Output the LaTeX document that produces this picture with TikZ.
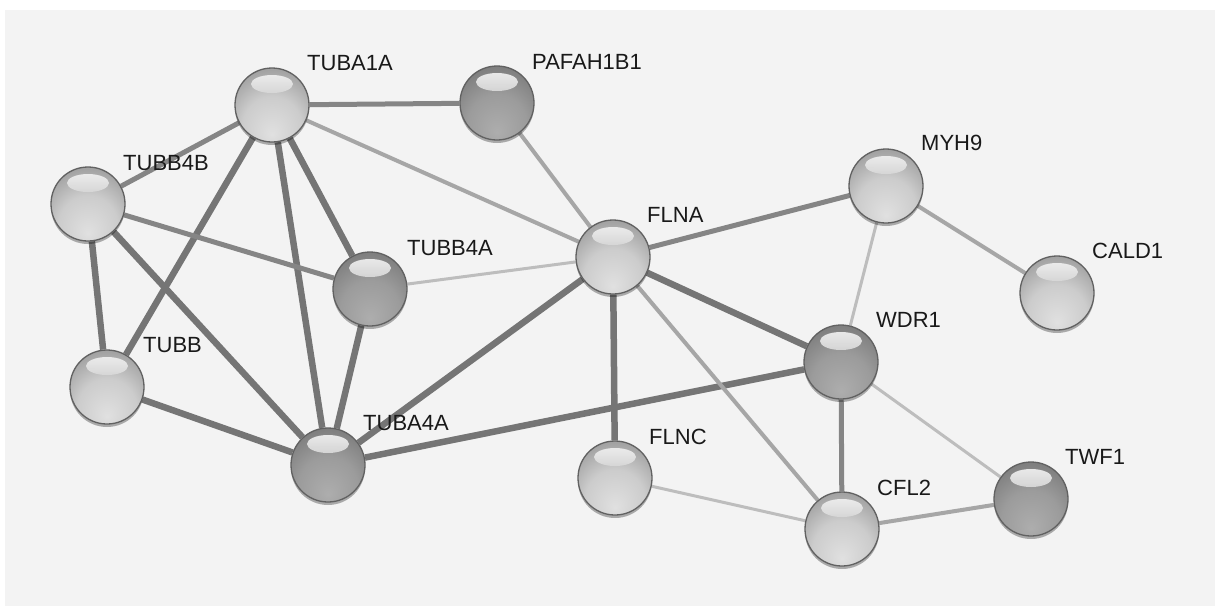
\documentclass[tikz,border=0pt]{standalone}
\usepackage{fontspec}
\setmainfont{Liberation Sans}
\usetikzlibrary{shadows}
\pgfdeclarelayer{bglayer}
\pgfdeclarelayer{edgelayer}
\pgfsetlayers{bglayer,edgelayer,main}
\definecolor{bgc}{RGB}{243,243,243}
\pgfdeclareradialshading{ballLight}{\pgfpoint{0bp}{-20bp}}{color(0bp)=(white!88!black); color(20bp)=(white!80!black); color(34bp)=(white!64!black); color(52bp)=(white!54!black); color(70bp)=(white!46!black)}
\pgfdeclareradialshading{ballDark}{\pgfpoint{0bp}{-20bp}}{color(0bp)=(white!68!black); color(20bp)=(white!61!black); color(34bp)=(white!50!black); color(52bp)=(white!42!black); color(70bp)=(white!35!black)}
\tikzset{
  ball/.style={circle, minimum size=74pt, inner sep=0pt, draw=black!62, line width=1.3pt,
    drop shadow={shadow xshift=0pt, shadow yshift=-3pt, opacity=0.3, fill=black},
    path picture={\shade[top color=white!97!black, bottom color=white!60!black, opacity=0.95]
      ([yshift=21pt]path picture bounding box.center) ellipse [x radius=21pt, y radius=9pt];}},
  ballL/.style={ball, shading=ballLight},
  ballD/.style={ball, shading=ballDark},
  lbl/.style={anchor=west, inner sep=0pt, text=black!90, font=\fontsize{22}{26}\selectfont},
  eA/.style={draw=black!54, line width=6.5pt},
  eB/.style={draw=black!48, line width=5pt},
  eC/.style={draw=black!35, line width=4pt},
  eD/.style={draw=black!26, line width=3pt},
}
\begin{document}
\begin{tikzpicture}[x=1pt,y=-1pt]
\useasboundingbox (0,0) rectangle (1215,606);
\begin{pgfonlayer}{bglayer}
\fill[bgc] (5,10) rectangle (1215,606);
\end{pgfonlayer}

% nodes
\node[ballL] (tuba1a) at (272,105) {};
\node[ballD] (pafah) at (497,103) {};
\node[ballL] (tubb4b) at (88,204) {};
\node[ballD] (tubb4a) at (370,289) {};
\node[ballL] (flna) at (613,257) {};
\node[ballL] (myh9) at (886,186) {};
\node[ballL] (cald1) at (1057,293) {};
\node[ballD] (wdr1) at (841,362) {};
\node[ballL] (tubb) at (107,387) {};
\node[ballD] (tuba4a) at (328,465) {};
\node[ballL] (flnc) at (615,478) {};
\node[ballL] (cfl2) at (842,529) {};
\node[ballD] (twf1) at (1031,499) {};

% labels
\node[lbl] (l-tuba1a) at (307,63) {TUBA1A};
\node[lbl] (l-pafah) at (532,62) {PAFAH1B1};
\node[lbl] (l-tubb4b) at (123,163) {TUBB4B};
\node[lbl] (l-tubb4a) at (407,248) {TUBB4A};
\node[lbl] (l-flna) at (647,215) {FLNA};
\node[lbl] (l-myh9) at (921,143) {MYH9};
\node[lbl] (l-cald1) at (1092,251) {CALD1};
\node[lbl] (l-wdr1) at (876,320) {WDR1};
\node[lbl] (l-tubb) at (143,345) {TUBB};
\node[lbl] (l-tuba4a) at (363,423) {TUBA4A};
\node[lbl] (l-flnc) at (649,437) {FLNC};
\node[lbl] (l-cfl2) at (877,488) {CFL2};
\node[lbl] (l-twf1) at (1065,457) {TWF1};

% edges
\begin{pgfonlayer}{edgelayer}
\draw[eB] (tuba1a) -- (pafah);
\draw[eC] (tuba1a) -- (flna);
\draw[eB] (tuba1a) -- (tubb4b);
\draw[eA] (tuba1a) -- (tubb);
\draw[eA] (tuba1a) -- (tuba4a);
\draw[eA] (tuba1a) -- (tubb4a);
\draw[eB] (tubb4b) -- (tubb4a);
\draw[eA] (tubb4b) -- (tubb);
\draw[eA] (tubb4b) -- (tuba4a);
\draw[eA] (tubb) -- (tuba4a);
\draw[eA] (tubb4a) -- (tuba4a);
\draw[eD] (tubb4a) -- (flna);
\draw[eA] (tuba4a) -- (flna);
\draw[eA] (tuba4a) -- (wdr1);
\draw[eC] (pafah) -- (flna);
\draw[eB] (flna) -- (myh9);
\draw[eA] (flna) -- (wdr1);
\draw[eA] (flna) -- (flnc);
\draw[eC] (flna) -- (cfl2);
\draw[eC] (myh9) -- (cald1);
\draw[eD] (myh9) -- (wdr1);
\draw[eB] (wdr1) -- (cfl2);
\draw[eD] (wdr1) -- (twf1);
\draw[eD] (flnc) -- (cfl2);
\draw[eC] (cfl2) -- (twf1);
\end{pgfonlayer}
\end{tikzpicture}
\end{document}
